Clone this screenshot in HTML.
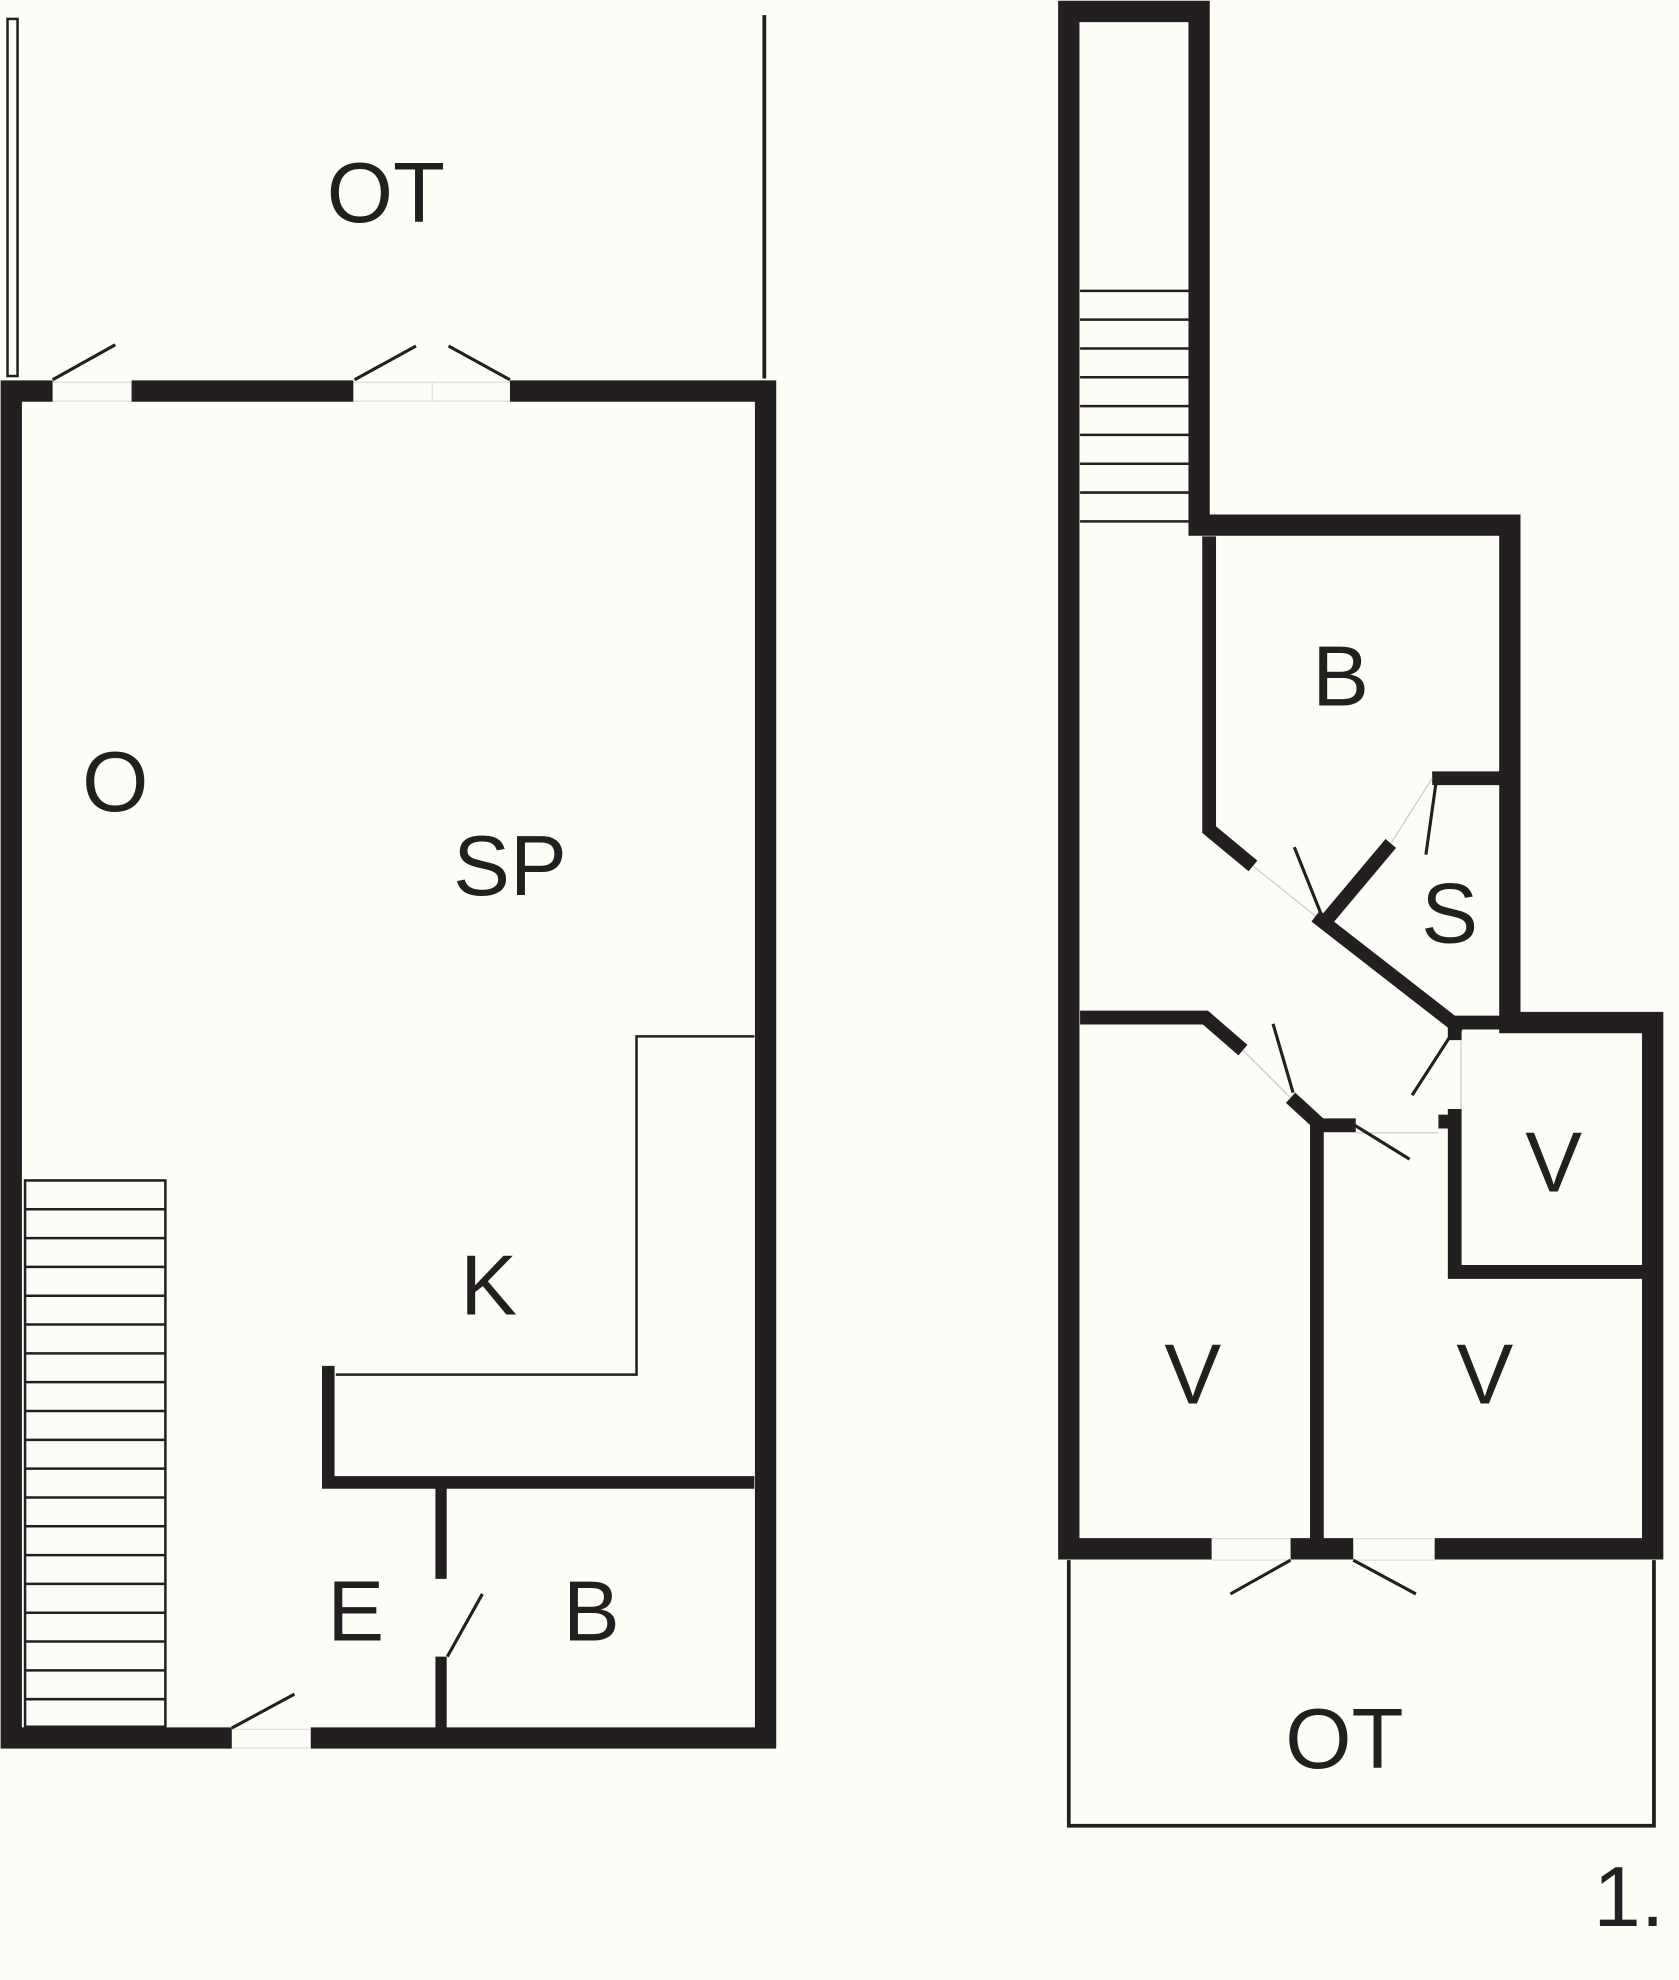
<!DOCTYPE html>
<html><head><meta charset="utf-8"><style>
html,body{margin:0;padding:0;background:#fdfdf8;}
svg{display:block;}
text{font-family:"Liberation Sans",sans-serif;fill:#231f20;text-anchor:middle;font-size:68px;}
</style></head><body>
<svg width="1679" height="1980" viewBox="0 0 1340 1580" xmlns="http://www.w3.org/2000/svg">
<rect x="0" y="0" width="1340" height="1580" fill="#fdfdf8"/>
<g stroke="#231f20" fill="none" stroke-linecap="butt" stroke-linejoin="miter">
<!-- LEFT PLAN -->
<line x1="610" y1="12" x2="610" y2="302" stroke-width="3"/>
<rect x="6" y="15" width="8" height="285" stroke-width="2"/>
<g stroke-width="17">
<polyline points="42,312 9,312 9,1387 185,1387"/>
<line x1="105" y1="312" x2="282" y2="312"/>
<polyline points="407,312 611,312 611,1387 248,1387"/>
</g>
<g stroke-width="1" stroke="#ddd">
<line x1="42" y1="305" x2="105" y2="305"/><line x1="42" y1="320" x2="105" y2="320"/>
<line x1="282" y1="305" x2="407" y2="305"/><line x1="282" y1="320" x2="407" y2="320"/>
<line x1="345" y1="305" x2="345" y2="320"/>
<line x1="185" y1="1380" x2="248" y2="1380"/><line x1="185" y1="1395" x2="248" y2="1395"/>
</g>
<g stroke-width="2.5">
<line x1="42" y1="303" x2="92" y2="275"/>
<line x1="283" y1="303" x2="332" y2="276"/>
<line x1="407" y1="303" x2="358" y2="276"/>
<line x1="185" y1="1379" x2="235" y2="1352"/>
<line x1="357" y1="1322" x2="385" y2="1272"/>
</g>
<g stroke-width="2">
<rect x="20" y="942" width="112" height="436"/>
<line x1="20" y1="965" x2="132" y2="965"/><line x1="20" y1="988" x2="132" y2="988"/>
<line x1="20" y1="1011" x2="132" y2="1011"/><line x1="20" y1="1034" x2="132" y2="1034"/>
<line x1="20" y1="1057" x2="132" y2="1057"/><line x1="20" y1="1080" x2="132" y2="1080"/>
<line x1="20" y1="1103" x2="132" y2="1103"/><line x1="20" y1="1126" x2="132" y2="1126"/>
<line x1="20" y1="1149" x2="132" y2="1149"/><line x1="20" y1="1172" x2="132" y2="1172"/>
<line x1="20" y1="1195" x2="132" y2="1195"/><line x1="20" y1="1218" x2="132" y2="1218"/>
<line x1="20" y1="1241" x2="132" y2="1241"/><line x1="20" y1="1264" x2="132" y2="1264"/>
<line x1="20" y1="1287" x2="132" y2="1287"/><line x1="20" y1="1310" x2="132" y2="1310"/>
<line x1="20" y1="1333" x2="132" y2="1333"/><line x1="20" y1="1356" x2="132" y2="1356"/>
</g>
<polyline points="602,827 508,827 508,1097 268,1097" stroke-width="2"/>
<polyline points="262,1090 262,1183 602,1183" stroke-width="10"/>
<line x1="352" y1="1183" x2="352" y2="1260" stroke-width="9"/>
<line x1="352" y1="1322" x2="352" y2="1380" stroke-width="9"/>

<!-- RIGHT PLAN -->
<g stroke-width="17">
<polyline points="967,1236 853,1236 853,9 957,9 957,419 1205,419 1205,816 1319,816 1319,1236 1145,1236"/>
<line x1="1030" y1="1236" x2="1080" y2="1236"/>
</g>
<g stroke-width="1" stroke="#ddd">
<line x1="967" y1="1228" x2="1030" y2="1228"/><line x1="967" y1="1245" x2="1030" y2="1245"/>
<line x1="1080" y1="1228" x2="1145" y2="1228"/><line x1="1080" y1="1245" x2="1145" y2="1245"/>
</g>
<g stroke-width="2">
<line x1="862" y1="232" x2="949" y2="232"/><line x1="862" y1="255" x2="949" y2="255"/>
<line x1="862" y1="278" x2="949" y2="278"/><line x1="862" y1="301" x2="949" y2="301"/>
<line x1="862" y1="324" x2="949" y2="324"/><line x1="862" y1="347" x2="949" y2="347"/>
<line x1="862" y1="370" x2="949" y2="370"/><line x1="862" y1="393" x2="949" y2="393"/>
<line x1="862" y1="416" x2="949" y2="416"/>
</g>
<g stroke-width="11">
<polyline points="965,428 965,662 1000,691"/>
<line x1="1050" y1="731" x2="1167" y2="822"/>
<line x1="1058" y1="735" x2="1110" y2="673"/>
<line x1="1143" y1="621" x2="1197" y2="621"/>
<line x1="1160" y1="816" x2="1200" y2="816"/>
<polyline points="862,812 962,812 992,838"/>
<polyline points="1030,876 1054,898 1082,898"/>
<line x1="1051" y1="893" x2="1051" y2="1230"/>
<line x1="1148" y1="895" x2="1165" y2="895"/>
<polyline points="1161,885 1161,1015 1311,1015"/>
<line x1="1161" y1="816" x2="1161" y2="830"/>
</g>
<g stroke-width="1" stroke="#ccc">
<line x1="1000" y1="691" x2="1050" y2="731"/>
<line x1="1110" y1="673" x2="1143" y2="621"/>
<line x1="992" y1="838" x2="1030" y2="876"/>
<line x1="1082" y1="904" x2="1148" y2="904"/>
<line x1="1166" y1="830" x2="1166" y2="885"/>
</g>
<g stroke-width="2.5">
<line x1="1033" y1="676" x2="1055" y2="731"/>
<line x1="1146" y1="625" x2="1138" y2="682"/>
<line x1="1016" y1="817" x2="1032" y2="872"/>
<line x1="1078" y1="896" x2="1125" y2="925"/>
<line x1="1158" y1="826" x2="1127" y2="874"/>
<line x1="1030" y1="1245" x2="982" y2="1272"/>
<line x1="1080" y1="1245" x2="1130" y2="1272"/>
</g>
<polyline points="853,1245 853,1457 1320,1457 1320,1245" stroke-width="3"/>
</g>
<text x="308" y="177">OT</text>
<text x="92" y="647">O</text>
<text x="407" y="714">SP</text>
<text x="390" y="1049">K</text>
<text x="284" y="1309">E</text>
<text x="472" y="1309">B</text>
<text x="1070" y="563">B</text>
<text x="1157" y="752">S</text>
<text x="1240" y="951">V</text>
<text x="952" y="1120">V</text>
<text x="1185" y="1120">V</text>
<text x="1073" y="1411">OT</text>
<text x="1300" y="1537">1.</text>
</svg>
</body></html>
